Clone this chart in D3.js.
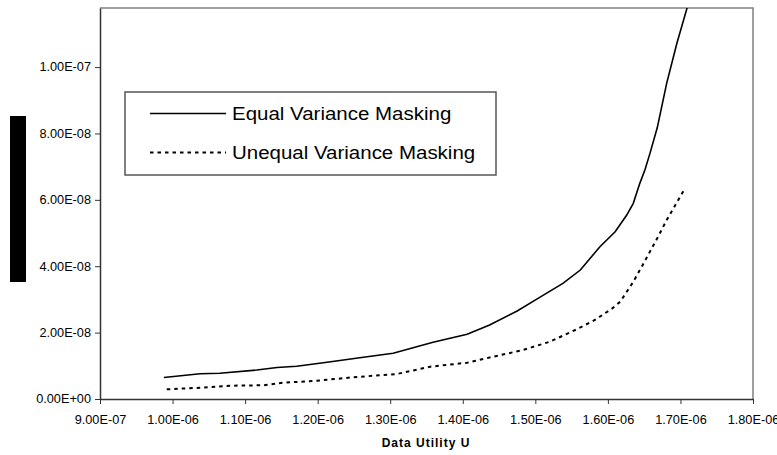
<!DOCTYPE html>
<html>
<head>
<meta charset="utf-8">
<script src="https://cdn.jsdelivr.net/npm/d3@7"></script>
<style>
  html, body { margin: 0; padding: 0; background: #fff; }
  svg { display: block; font-family: "Liberation Sans", Arial, sans-serif; }
</style>
</head>
<body>
<svg id="chart" width="777" height="455"></svg>
<script>
// Data utility U (x) against disclosure risk (y) for two masking schemes
const equalU = [0.988e-6, 1.038e-6, 1.065e-6, 1.116e-6, 1.144e-6, 1.171e-6, 1.213e-6, 1.258e-6,
  1.304e-6, 1.359e-6, 1.406e-6, 1.437e-6, 1.475e-6, 1.502e-6, 1.538e-6, 1.562e-6, 1.589e-6,
  1.610e-6, 1.626e-6, 1.635e-6, 1.644e-6, 1.651e-6, 1.658e-6, 1.668e-6, 1.681e-6, 1.695e-6, 1.712e-6];
const equalRisk = [6.48e-9, 7.62e-9, 7.74e-9, 8.73e-9, 9.49e-9, 9.85e-9, 11.05e-9, 12.44e-9,
  13.77e-9, 17.08e-9, 19.49e-9, 22.29e-9, 26.5e-9, 30.1e-9, 34.85e-9, 38.86e-9, 45.87e-9,
  50.39e-9, 55.42e-9, 58.95e-9, 64.97e-9, 68.98e-9, 74.0e-9, 81.7e-9, 95.1e-9, 107.1e-9, 120.0e-9];

const unequalU = [0.992e-6, 1.038e-6, 1.079e-6, 1.125e-6, 1.152e-6, 1.194e-6, 1.249e-6, 1.309e-6,
  1.355e-6, 1.406e-6, 1.442e-6, 1.483e-6, 1.520e-6, 1.557e-6, 1.582e-6, 1.606e-6, 1.617e-6,
  1.635e-6, 1.648e-6, 1.668e-6, 1.681e-6, 1.705e-6];
const unequalRisk = [2.92e-9, 3.40e-9, 4.01e-9, 4.13e-9, 4.91e-9, 5.42e-9, 6.54e-9, 7.53e-9,
  9.73e-9, 10.93e-9, 12.74e-9, 14.76e-9, 17.26e-9, 20.99e-9, 23.8e-9, 27.3e-9, 29.3e-9,
  35.3e-9, 40.4e-9, 48.4e-9, 53.9e-9, 63.0e-9];

const seriesNames = ["Equal Variance Masking", "Unequal Variance Masking"];
const xTicks = [0.9e-6, 1.0e-6, 1.1e-6, 1.2e-6, 1.3e-6, 1.4e-6, 1.5e-6, 1.6e-6, 1.7e-6, 1.8e-6];
const xTickLabels = ["9.00E-07", "1.00E-06", "1.10E-06", "1.20E-06", "1.30E-06", "1.40E-06",
  "1.50E-06", "1.60E-06", "1.70E-06", "1.80E-06"];
const yTicks = [0, 2e-8, 4e-8, 6e-8, 8e-8, 1e-7];
const yTickLabels = ["0.00E+00", "2.00E-08", "4.00E-08", "6.00E-08", "8.00E-08", "1.00E-07"];
const xTitle = "Data Utility U";

const FONT = "'Liberation Sans', Arial, sans-serif";
const svg = d3.select("#chart");
const plot = { left: 100, right: 753, top: 8, bottom: 399 };

const x = d3.scaleLinear().domain([0.9e-6, 1.8e-6]).range([plot.left, plot.right]);
const y = d3.scaleLinear().domain([0, 1.178e-7]).range([plot.bottom, plot.top]);

// widen glyphs horizontally (the text face is slightly extended)
function stretch(sel, factor) {
  sel.each(function () {
    const len = this.getComputedTextLength();
    d3.select(this).attr("textLength", len * factor).attr("lengthAdjust", "spacingAndGlyphs");
  });
}

// black bar standing in for the y-axis title
svg.append("rect").attr("x", 10).attr("y", 116).attr("width", 16).attr("height", 166).attr("fill", "#000");

// plot frame (top and right edges)
svg.append("path")
  .attr("d", `M${plot.left},${plot.top}H${plot.right}V${plot.bottom}`)
  .attr("fill", "none").attr("stroke", "#808080").attr("stroke-width", 1.5);

svg.append("defs").append("clipPath").attr("id", "clip")
  .append("rect").attr("x", plot.left).attr("y", plot.top)
  .attr("width", plot.right - plot.left).attr("height", plot.bottom - plot.top);

// axes
const xAxis = d3.axisBottom(x).tickValues(xTicks)
  .tickFormat((d, i) => xTickLabels[i]).tickSize(5).tickSizeOuter(0).tickPadding(11);
const yAxis = d3.axisLeft(y).tickValues(yTicks)
  .tickFormat((d, i) => yTickLabels[i]).tickSize(5).tickSizeOuter(0).tickPadding(4);

const gx = svg.append("g").attr("transform", `translate(0,${plot.bottom})`).call(xAxis);
const gy = svg.append("g").attr("transform", `translate(${plot.left},0)`).call(yAxis);
[gx, gy].forEach(g => {
  g.attr("font-size", null);
  g.select(".domain").attr("stroke", "#333").attr("stroke-width", 1.5);
  g.selectAll(".tick line").attr("stroke", "#333");
  g.selectAll(".tick text").attr("fill", "#000").style("font-size", "12px")
    .style("font-family", FONT);
  stretch(g.selectAll(".tick text"), 1.06);
});

// x-axis title
svg.append("text").attr("x", 426).attr("y", 447).attr("text-anchor", "middle")
  .style("font-family", FONT)
  .style("font-size", "12px").style("font-weight", "bold").style("letter-spacing", "1px")
  .text(xTitle);

// series lines
const line = d3.line().x(d => x(d[0])).y(d => y(d[1]));
const equalPts = equalU.map((u, i) => [u, equalRisk[i]]);
const unequalPts = unequalU.map((u, i) => [u, unequalRisk[i]]);

const lines = svg.append("g").attr("clip-path", "url(#clip)");
lines.append("path").datum(equalPts).attr("d", line)
  .attr("fill", "none").attr("stroke", "#000").attr("stroke-width", 1.6);
lines.append("path").datum(unequalPts).attr("d", line)
  .attr("fill", "none").attr("stroke", "#000").attr("stroke-width", 2)
  .attr("stroke-dasharray", "3.5,4");

// legend
const lg = svg.append("g");
lg.append("rect").attr("x", 125).attr("y", 92).attr("width", 371).attr("height", 83)
  .attr("fill", "#fff").attr("stroke", "#555").attr("stroke-width", 1.5);
const legendRows = [
  { name: seriesNames[0], y: 113.5, dash: null, w: 1.6 },
  { name: seriesNames[1], y: 152.5, dash: "3.5,4", w: 2 }
];
legendRows.forEach(r => {
  lg.append("line").attr("x1", 150).attr("x2", 226).attr("y1", r.y).attr("y2", r.y)
    .attr("stroke", "#000").attr("stroke-width", r.w)
    .attr("stroke-dasharray", r.dash);
  lg.append("text").attr("x", 232).attr("y", r.y + 6.5).style("font-size", "17.5px")
    .style("font-family", FONT)
    .attr("fill", "#000").text(r.name)
    .call(stretch, 1.17);
});
</script>
</body>
</html>
